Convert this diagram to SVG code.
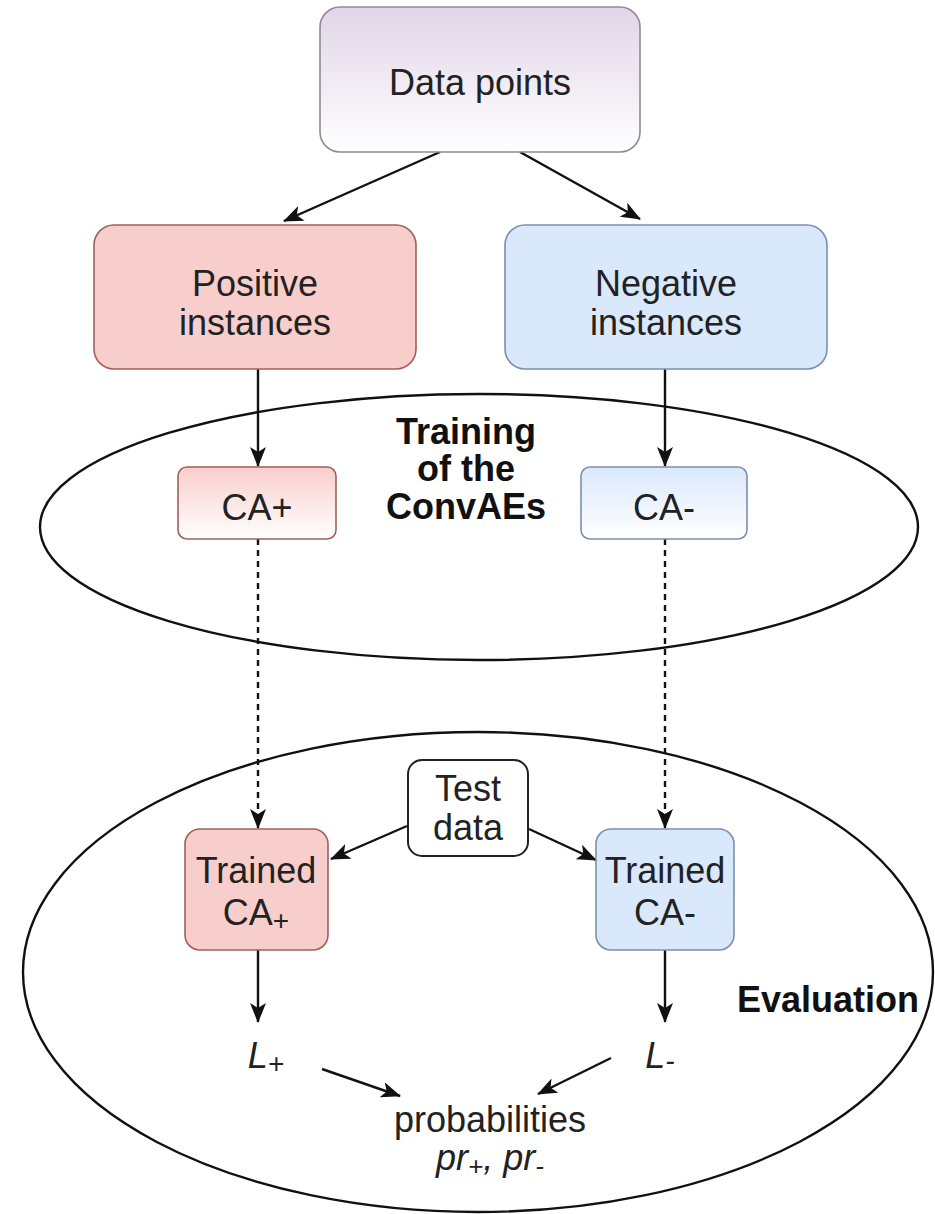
<svg xmlns="http://www.w3.org/2000/svg" width="935" height="1214" viewBox="0 0 935 1214">
  <defs>
    <linearGradient id="gPurple" x1="0" y1="0" x2="0" y2="1">
      <stop offset="0" stop-color="#e1d5e7"/>
      <stop offset="1" stop-color="#ffffff"/>
    </linearGradient>
    <linearGradient id="gRed" x1="0" y1="0" x2="0" y2="1">
      <stop offset="0" stop-color="#f8cecc"/>
      <stop offset="1" stop-color="#ffffff"/>
    </linearGradient>
    <linearGradient id="gBlue" x1="0" y1="0" x2="0" y2="1">
      <stop offset="0" stop-color="#dae8fc"/>
      <stop offset="1" stop-color="#ffffff"/>
    </linearGradient>
    <marker id="arrow" viewBox="0 0 20 16" refX="19" refY="8" markerWidth="20" markerHeight="16" markerUnits="userSpaceOnUse" orient="auto">
      <path d="M0,0 L20,8 L0,16 L5,8 Z" fill="#111"/>
    </marker>
  </defs>
  <style>
    text { font-family: "Liberation Sans", Arial, sans-serif; fill: #222; text-anchor: middle; }
    .lbl { font-size: 36px; }
    .bold { font-size: 36px; font-weight: bold; fill: #111; }
    .it { font-style: italic; }
    .edge { fill: none; stroke: #111; stroke-width: 2.4; marker-end: url(#arrow); }
    .dash { stroke-dasharray: 6 5; }
    .ell { fill: none; stroke: #111; stroke-width: 2.4; }
  </style>

  <rect width="935" height="1214" fill="#ffffff"/>

  <!-- stage regions -->
  <g id="training">
    <ellipse class="ell" cx="479" cy="527" rx="439" ry="133"/>
    <text class="bold" x="466" y="444">Training</text>
    <text class="bold" x="466" y="481">of the</text>
    <text class="bold" x="466" y="519">ConvAEs</text>
  </g>
  <g id="evaluation">
    <ellipse class="ell" cx="478" cy="972" rx="455" ry="240"/>
    <text class="bold" x="828" y="1012">Evaluation</text>
  </g>

  <!-- connectors -->
  <g id="connectors">
    <line class="edge" x1="440" y1="152" x2="284" y2="221"/>
    <line class="edge" x1="520" y1="152" x2="640" y2="219"/>
    <line class="edge" x1="258" y1="369" x2="258" y2="466"/>
    <line class="edge" x1="665" y1="369" x2="665" y2="466"/>
    <line class="edge dash" x1="258" y1="539" x2="258" y2="828"/>
    <line class="edge dash" x1="665" y1="539" x2="665" y2="828"/>
    <line class="edge" x1="407" y1="826" x2="331" y2="859"/>
    <line class="edge" x1="529" y1="829" x2="596" y2="860"/>
    <line class="edge" x1="258" y1="950" x2="258" y2="1022"/>
    <line class="edge" x1="665" y1="950" x2="665" y2="1022"/>
    <line class="edge" x1="322" y1="1069" x2="400" y2="1096"/>
    <line class="edge" x1="611" y1="1058" x2="538" y2="1094"/>
  </g>

  <!-- nodes -->
  <g id="data-points">
    <rect x="320" y="7" width="320" height="145" rx="20" fill="url(#gPurple)" stroke="#8f8a96" stroke-width="1.6"/>
    <text class="lbl" x="480" y="95">Data points</text>
  </g>
  <g id="positive-instances">
    <rect x="94" y="225" width="322" height="144" rx="20" fill="#f8cecc" stroke="#a0605c" stroke-width="1.6"/>
    <text class="lbl" x="255" y="296">Positive</text>
    <text class="lbl" x="255" y="335">instances</text>
  </g>
  <g id="negative-instances">
    <rect x="505" y="225" width="322" height="144" rx="20" fill="#dae8fc" stroke="#7a90ad" stroke-width="1.6"/>
    <text class="lbl" x="666" y="296">Negative</text>
    <text class="lbl" x="666" y="335">instances</text>
  </g>
  <g id="ca-plus">
    <rect x="178" y="467" width="158" height="72" rx="9" fill="url(#gRed)" stroke="#a0605c" stroke-width="1.6"/>
    <text class="lbl" x="257" y="520">CA+</text>
  </g>
  <g id="ca-minus">
    <rect x="581" y="467" width="166" height="72" rx="9" fill="url(#gBlue)" stroke="#7a90ad" stroke-width="1.6"/>
    <text class="lbl" x="664" y="520">CA-</text>
  </g>
  <g id="test-data">
    <rect x="408" y="760" width="120" height="96" rx="14" fill="#ffffff" stroke="#222" stroke-width="2"/>
    <text class="lbl" x="468" y="801">Test</text>
    <text class="lbl" x="468" y="840">data</text>
  </g>
  <g id="trained-ca-plus">
    <rect x="185" y="829" width="143" height="121" rx="15" fill="#f8cecc" stroke="#a0605c" stroke-width="1.6"/>
    <text class="lbl" x="256" y="883">Trained</text>
    <text class="lbl" x="256" y="925">CA<tspan font-size="28" dy="5">+</tspan></text>
  </g>
  <g id="trained-ca-minus">
    <rect x="596" y="829" width="138" height="121" rx="15" fill="#dae8fc" stroke="#7a90ad" stroke-width="1.6"/>
    <text class="lbl" x="665" y="883">Trained</text>
    <text class="lbl" x="665" y="925">CA-</text>
  </g>
  <g id="loss-plus">
    <text class="lbl it" x="266" y="1068">L<tspan font-size="28" dy="5">+</tspan></text>
  </g>
  <g id="loss-minus">
    <text class="lbl it" x="660" y="1068">L<tspan font-size="28" dy="2">-</tspan></text>
  </g>
  <g id="probabilities">
    <text class="lbl" x="490" y="1132">probabilities</text>
    <text class="lbl it" x="490" y="1170">pr<tspan font-size="26" dy="5">+</tspan><tspan dy="-5">, pr</tspan><tspan font-size="26" dy="5">-</tspan></text>
  </g>
</svg>
